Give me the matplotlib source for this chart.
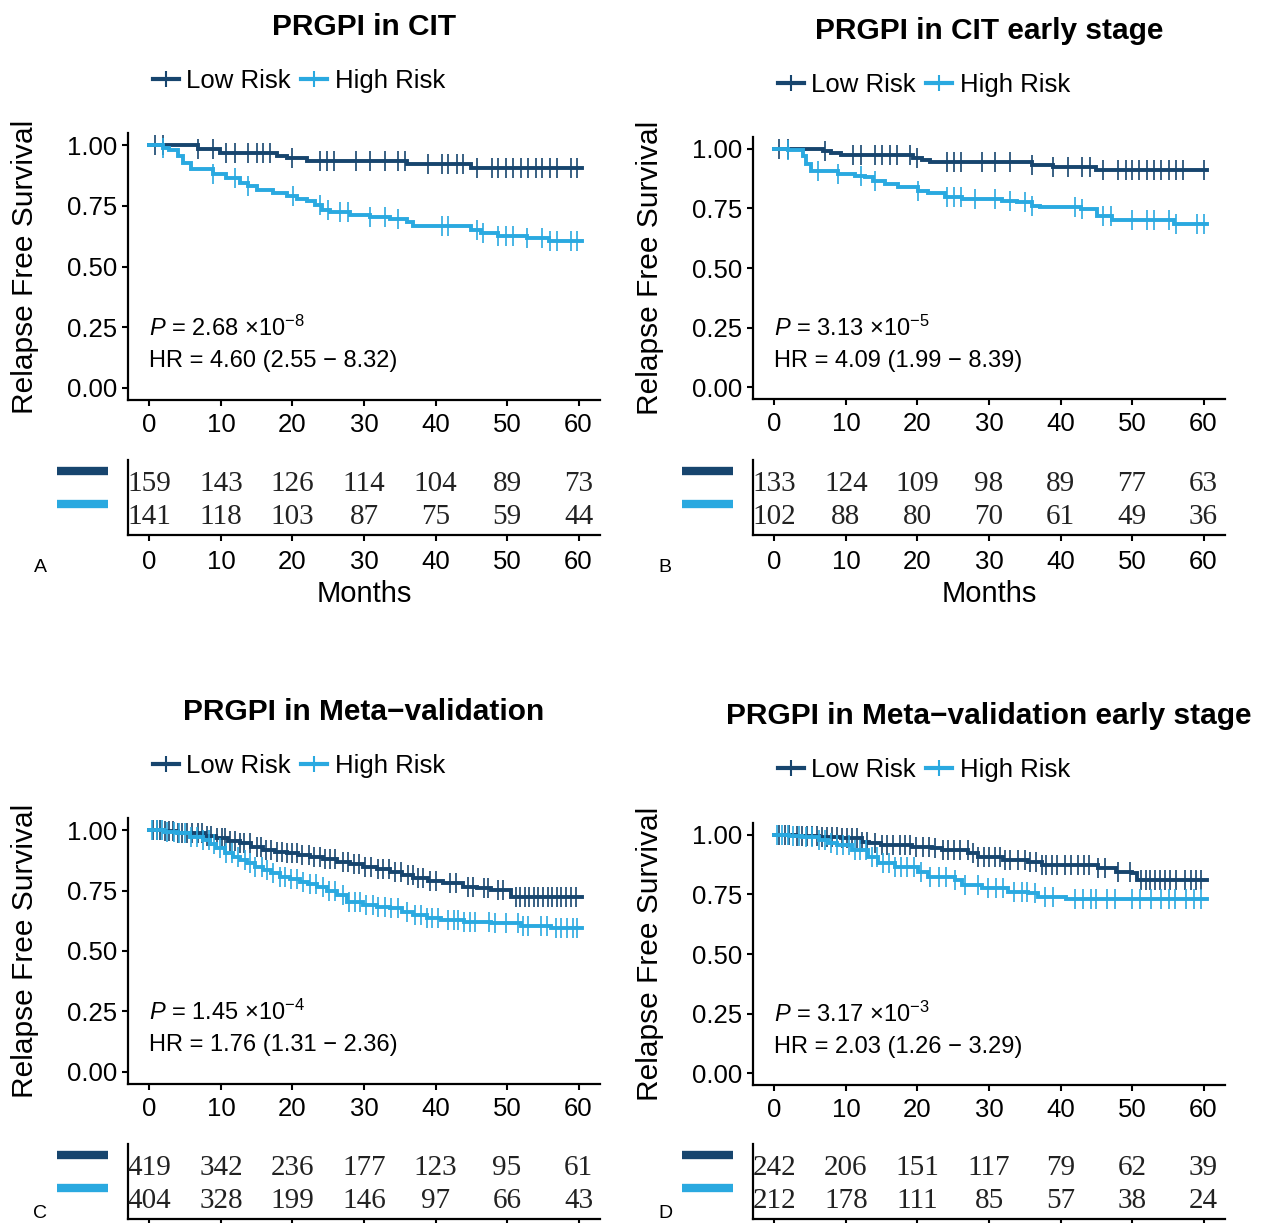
import numpy as np
import matplotlib
matplotlib.use("Agg")
import matplotlib.pyplot as plt
from matplotlib.lines import Line2D

W, H = 1261, 1223
DARK = "#17456e"
LIGHT = "#2aa9e0"

plt.rcParams['font.family'] = ['Liberation Sans', 'DejaVu Sans']
plt.rcParams['mathtext.fontset'] = 'custom'
plt.rcParams['mathtext.rm'] = 'Liberation Sans'
plt.rcParams['mathtext.it'] = 'Liberation Sans:italic'

month_ticks = [0, 10, 20, 30, 40, 50, 60]
surv_ticks = [0.0, 0.25, 0.5, 0.75, 1.0]

titles = ["PRGPI in CIT", "PRGPI in CIT early stage",
          "PRGPI in Meta\u2212validation", "PRGPI in Meta\u2212validation early stage"]
panel_letters = ["A", "B", "C", "D"]

# Kaplan-Meier step points (months, survival)
a_low_t = [0, 6.8, 9.8, 17.8, 19.2, 22.0, 36.0, 44.9]
a_low_s = [1.0, 0.983, 0.967, 0.955, 0.945, 0.933, 0.921, 0.905]
a_high_t = [0, 1.9, 2.8, 4.0, 4.7, 5.8, 8.9, 10.7, 12.6, 13.8, 15.0, 17.3, 19.2, 20.6,
            22.0, 23.1, 24.1, 25.2, 28.0, 30.8, 33.7, 36.0, 36.9, 44.9, 46.3, 48.7, 52.8, 55.9]
a_high_s = [1.0, 0.99, 0.98, 0.956, 0.928, 0.90, 0.88, 0.866, 0.845, 0.831, 0.817, 0.804, 0.79,
            0.779, 0.769, 0.755, 0.734, 0.723, 0.714, 0.704, 0.696, 0.682, 0.668, 0.651, 0.638,
            0.627, 0.617, 0.603]
a_low_cens = [0.8, 1.9, 6.8, 8.9, 10.7, 11.9, 13.8, 15.0, 15.9, 16.8, 19.9, 23.8, 24.8, 25.8,
              28.9, 30.8, 32.9, 34.8, 35.8, 39.0, 40.9, 41.8, 43.0, 43.9, 45.8, 47.9, 48.8,
              49.9, 50.9, 51.9, 53.0, 54.0, 54.9, 56.0, 57.0, 58.9, 59.8]
a_high_cens = [1.9, 8.9, 11.9, 13.8, 20.1, 23.8, 25.0, 26.6, 27.8, 30.8, 32.9, 34.8, 40.9,
               41.8, 45.8, 46.7, 48.8, 49.9, 50.9, 52.8, 54.9, 56.0, 57.0, 58.9, 59.8]

b_low_t = [0, 6.8, 7.9, 9.3, 19.4, 20.6, 21.7, 36.0, 39.0, 44.9]
b_low_s = [1.0, 0.993, 0.982, 0.976, 0.962, 0.954, 0.944, 0.934, 0.923, 0.912]
b_high_t = [0, 1.9, 4.0, 4.4, 5.1, 8.9, 11.2, 12.6, 13.8, 15.4, 17.3, 20.1, 21.5, 23.8, 26.2,
            31.8, 33.9, 36.0, 37.2, 42.8, 45.1, 47.2, 55.9]
b_high_s = [1.0, 0.995, 0.972, 0.937, 0.909, 0.895, 0.888, 0.881, 0.867, 0.853, 0.839, 0.825,
            0.814, 0.800, 0.790, 0.783, 0.776, 0.762, 0.755, 0.748, 0.720, 0.702, 0.685]
b_low_cens = [0.7, 1.9, 7.0, 11.0, 12.1, 14.0, 15.0, 16.1, 17.1, 18.9, 20.0, 24.1, 25.1, 26.1,
              29.0, 30.9, 32.9, 36.0, 39.0, 41.0, 43.0, 44.1, 46.0, 48.0, 49.1, 50.0, 51.0,
              52.1, 53.1, 54.1, 55.1, 56.2, 57.1, 60.0]
b_high_cens = [1.9, 6.1, 8.9, 12.1, 14.0, 20.1, 24.1, 25.1, 26.1, 28.0, 30.9, 32.9, 35.0, 36.0,
               42.0, 43.0, 46.0, 47.1, 50.0, 52.1, 53.1, 55.1, 56.2, 59.1, 60.0]

c_low_t = [0, 2.0, 4.0, 6.2, 7.8, 9.3, 11.0, 12.6, 14.2, 15.9, 17.5, 19.2, 20.8, 22.4, 24.3,
           26.2, 28.0, 29.9, 31.8, 33.7, 35.3, 36.9, 39.0, 41.1, 43.9, 45.8, 47.7, 50.5]
c_low_s = [1.0, 0.995, 0.99, 0.986, 0.976, 0.966, 0.956, 0.945, 0.931, 0.917, 0.910, 0.904,
           0.897, 0.890, 0.880, 0.869, 0.858, 0.848, 0.838, 0.828, 0.814, 0.800, 0.790, 0.780,
           0.766, 0.759, 0.752, 0.724]
c_high_t = [0, 2.0, 3.9, 5.7, 7.5, 8.4, 9.3, 10.5, 11.7, 12.6, 13.6, 14.7, 15.9, 17.0, 18.2,
            19.6, 21.0, 22.2, 23.4, 24.8, 26.2, 27.6, 29.9, 31.8, 33.7, 35.3, 36.9, 38.8, 40.7,
            44.0, 47.7, 52.0, 56.1]
c_high_s = [1.0, 0.993, 0.986, 0.972, 0.959, 0.942, 0.924, 0.907, 0.890, 0.876, 0.862, 0.849,
            0.835, 0.821, 0.807, 0.797, 0.786, 0.776, 0.766, 0.748, 0.731, 0.704, 0.690, 0.683,
            0.676, 0.662, 0.649, 0.638, 0.628, 0.621, 0.614, 0.604, 0.594]
c_low_cens = [0.5, 1.0, 1.5, 2.2, 2.8, 3.3, 4.0, 4.5, 5.2, 6.0, 6.8, 7.3, 8.0, 8.6, 9.4, 10.1,
              10.6, 11.3, 12.0, 12.6, 13.2, 14.1, 15.0, 15.6, 16.3, 17.0, 17.8, 18.5, 19.2,
              20.0, 20.7, 21.4, 22.3, 23.0, 23.9, 24.6, 25.3, 26.0, 27.1, 27.8, 28.6, 29.3,
              30.2, 31.0, 31.9, 32.7, 33.5, 34.4, 35.2, 36.1, 36.8, 37.6, 38.3, 39.2, 40.1,
              42.0, 42.9, 44.5, 45.2, 46.8, 47.3, 48.8, 49.5, 51.2, 51.8, 52.5, 53.1, 53.8,
              54.4, 55.0, 55.7, 56.3, 57.0, 57.6, 58.3, 59.0, 59.6]
c_high_cens = [0.4, 1.1, 1.8, 2.5, 3.4, 4.2, 5.0, 5.8, 6.6, 7.5, 8.3, 9.0, 9.8, 10.7, 11.5,
               12.4, 13.3, 14.0, 14.8, 15.7, 16.5, 17.3, 18.2, 19.0, 19.8, 20.6, 21.5, 22.4,
               23.3, 24.2, 25.1, 26.0, 27.0, 27.9, 28.7, 29.5, 30.3, 31.2, 32.0, 32.9, 33.8,
               34.7, 36.0, 37.2, 38.0, 38.8, 39.5, 40.3, 41.8, 42.6, 43.2, 44.0, 44.8, 45.5,
               47.5, 48.3, 49.8, 51.5, 52.2, 52.9, 54.8, 55.6, 56.8, 57.6, 58.4, 59.2, 59.8]

d_low_t = [0, 3.0, 6.2, 9.3, 12.2, 13.2, 14.9, 19.2, 22.0, 23.4, 27.1, 28.5, 32.0, 35.5, 37.4,
           45.3, 47.7, 50.0, 50.7]
d_low_s = [1.0, 0.997, 0.993, 0.986, 0.972, 0.965, 0.958, 0.951, 0.944, 0.937, 0.923, 0.909,
           0.895, 0.888, 0.874, 0.860, 0.846, 0.839, 0.811]
d_high_t = [0, 2.0, 3.9, 6.2, 7.5, 8.8, 10.9, 13.1, 14.5, 16.8, 20.1, 21.5, 25.2, 26.2, 29.0,
            32.7, 35.5, 36.9, 40.7]
d_high_s = [1.0, 0.995, 0.993, 0.979, 0.968, 0.958, 0.937, 0.909, 0.881, 0.867, 0.846, 0.825,
            0.811, 0.790, 0.776, 0.762, 0.755, 0.741, 0.730]
d_low_cens = [0.6, 1.5, 2.0, 3.1, 3.8, 4.6, 5.2, 6.0, 6.7, 7.3, 8.1, 8.7, 9.4, 10.2, 10.8,
              11.5, 12.3, 13.0, 14.1, 15.0, 15.8, 16.6, 17.5, 18.3, 19.0, 19.8, 20.8, 21.6,
              22.5, 23.5, 24.3, 25.1, 26.0, 27.0, 27.8, 28.5, 29.3, 30.0, 30.8, 31.5, 32.2,
              33.0, 34.0, 35.0, 35.8, 36.6, 37.4, 38.0, 38.8, 39.5, 40.6, 41.5, 42.4, 43.3,
              44.0, 45.3, 46.2, 48.0, 49.7, 51.2, 51.9, 52.5, 53.2, 53.9, 54.6, 55.3, 56.1,
              57.4, 58.2, 58.9, 59.6]
d_high_cens = [0.3, 1.0, 1.9, 2.6, 3.5, 4.4, 5.3, 6.2, 7.0, 7.9, 8.8, 9.6, 10.4, 11.2, 12.0,
               12.8, 13.6, 14.4, 15.2, 16.0, 16.8, 17.7, 18.6, 19.5, 20.5, 21.8, 23.0, 24.0,
               25.2, 26.6, 28.4, 29.8, 31.0, 32.0, 33.5, 34.6, 35.3, 36.5, 37.8, 38.9, 42.0,
               43.1, 44.3, 45.0, 46.5, 47.6, 50.0, 51.1, 52.6, 54.1, 55.2, 56.0, 57.5, 58.6,
               59.7]

# numbers at risk
a_risk_low = [159, 143, 126, 114, 104, 89, 73]
a_risk_high = [141, 118, 103, 87, 75, 59, 44]
b_risk_low = [133, 124, 109, 98, 89, 77, 63]
b_risk_high = [102, 88, 80, 70, 61, 49, 36]
c_risk_low = [419, 342, 236, 177, 123, 95, 61]
c_risk_high = [404, 328, 199, 146, 97, 66, 43]
d_risk_low = [242, 206, 151, 117, 79, 62, 39]
d_risk_high = [212, 178, 111, 85, 57, 38, 24]

p_mant = ["2.68", "3.13", "1.45", "3.17"]
p_exp = ["-8", "-5", "-4", "-3"]
hr_text = ["HR = 4.60 (2.55 \u2212 8.32)", "HR = 4.09 (1.99 \u2212 8.39)",
           "HR = 1.76 (1.31 \u2212 2.36)", "HR = 2.03 (1.26 \u2212 3.29)"]

T_END = 60.5


def box(l, t, r, b):
    return [l / W, 1 - b / H, (r - l) / W, (b - t) / H]


def km_curve(ax, t, s, cens, color):
    t = np.array(t + [T_END])
    s = np.array(s + [s[-1]])
    ax.step(t, s, where='post', color=color, lw=2.8, solid_joinstyle='miter')
    cens = np.array(cens)
    idx = np.searchsorted(t, cens, side='right') - 1
    ax.plot(cens, s[idx], ls='none', marker='|', ms=14, mew=1.2, color=color)


def draw_panel(fig, i, km_box, tab_box, x_off, y_off, tab_off, curves, risk, bottom_visible):
    ax = fig.add_axes(box(*km_box))
    for t, s, cens, col in curves:
        km_curve(ax, t, s, cens, col)
    ax.set_xlim(-3, 63)
    ax.set_ylim(-0.05, 1.05)
    ax.set_xticks(month_ticks)
    ax.set_yticks(surv_ticks)
    ax.set_yticklabels(["%.2f" % v for v in surv_ticks])
    for sp in ['top', 'right']:
        ax.spines[sp].set_visible(False)
    for sp in ['left', 'bottom']:
        ax.spines[sp].set_linewidth(1.6)
    ax.tick_params(axis='both', labelsize=18.5, length=4.5, width=1.5, colors='black')
    ax.tick_params(axis='x', pad=5)
    ax.tick_params(axis='y', pad=3)

    ax.text(0, 0.245, r"$P$ = %s ×10$^{%s}$" % (p_mant[i], p_exp[i]),
            fontsize=17, va='center', ha='left')
    ax.text(0, 0.11, hr_text[i], fontsize=17, va='center', ha='left')

    cx = (km_box[0] + km_box[2]) / 2
    fig.text(cx / W, 1 - (27 + y_off) / H, titles[i], fontsize=21.5,
             fontweight='bold', ha='center', va='center')
    handles = [Line2D([], [], color=DARK, lw=3, marker='+', ms=12, mew=1.5),
               Line2D([], [], color=LIGHT, lw=3, marker='+', ms=12, mew=1.5)]
    ax.legend(handles, ["Low Risk", "High Risk"], loc='center',
              bbox_to_anchor=((299 + x_off) / W, 1 - (81 + y_off) / H),
              bbox_transform=fig.transFigure, ncol=2, frameon=False,
              fontsize=18.5, handlelength=1.0, handletextpad=0.3,
              columnspacing=0.4, borderpad=0, borderaxespad=0)
    fig.text((25 + x_off) / W, 1 - ((km_box[1] + km_box[3]) / 2) / H,
             "Relapse Free Survival", fontsize=21.5, rotation=90,
             ha='center', va='center')

    # risk table
    tb = fig.add_axes(box(*tab_box))
    tb.set_xlim(-3, 63)
    tb.set_ylim(0, 1)
    for j, m in enumerate(month_ticks):
        tb.text(m, 0.68, str(risk[0][j]), ha='center', va='center',
                fontsize=21, family='Liberation Serif', color='#222222')
        tb.text(m, 0.24, str(risk[1][j]), ha='center', va='center',
                fontsize=21, family='Liberation Serif', color='#222222')
    tb.set_xticks(month_ticks)
    tb.set_yticks([])
    for sp in ['top', 'right']:
        tb.spines[sp].set_visible(False)
    for sp in ['left', 'bottom']:
        tb.spines[sp].set_linewidth(1.6)
    tb.tick_params(axis='x', labelsize=18.5, length=4.5, width=1.5, pad=6,
                   labelbottom=bottom_visible)
    span = tab_box[2] - tab_box[0]
    bar_x = [(57 + x_off - tab_box[0]) / span, (108 + x_off - tab_box[0]) / span]
    tb.plot(bar_x, [1 - 11 / 75, 1 - 11 / 75], transform=tb.transAxes, clip_on=False,
            color=DARK, lw=6, solid_capstyle='butt')
    tb.plot(bar_x, [1 - 44 / 75, 1 - 44 / 75], transform=tb.transAxes, clip_on=False,
            color=LIGHT, lw=6, solid_capstyle='butt')
    if bottom_visible:
        fig.text(cx / W, 1 - (594 + tab_off) / H, "Months", fontsize=21,
                 ha='center', va='center')
    fig.text((40 + x_off) / W, 1 - (567 + tab_off) / H, panel_letters[i],
             fontsize=14, ha='center', va='center')


def main():
    fig = plt.figure(figsize=(W / 100, H / 100), dpi=100)

    draw_panel(fig, 0, (128, 133, 600, 400), (128, 460, 600, 535), 0, 0, 0,
               [(a_low_t, a_low_s, a_low_cens, DARK), (a_high_t, a_high_s, a_high_cens, LIGHT)],
               (a_risk_low, a_risk_high), True)
    draw_panel(fig, 1, (753, 137, 1225, 399), (753, 460, 1225, 535), 625, 4, 0,
               [(b_low_t, b_low_s, b_low_cens, DARK), (b_high_t, b_high_s, b_high_cens, LIGHT)],
               (b_risk_low, b_risk_high), True)
    draw_panel(fig, 2, (128, 818, 600, 1084), (128, 1144, 600, 1219), 0, 685, 646,
               [(c_low_t, c_low_s, c_low_cens, DARK), (c_high_t, c_high_s, c_high_cens, LIGHT)],
               (c_risk_low, c_risk_high), False)
    draw_panel(fig, 3, (753, 823, 1225, 1085), (753, 1144, 1225, 1219), 625, 689, 646,
               [(d_low_t, d_low_s, d_low_cens, DARK), (d_high_t, d_high_s, d_high_cens, LIGHT)],
               (d_risk_low, d_risk_high), False)

    fig.savefig("out.png", dpi=100)


if __name__ == "__main__":
    main()
